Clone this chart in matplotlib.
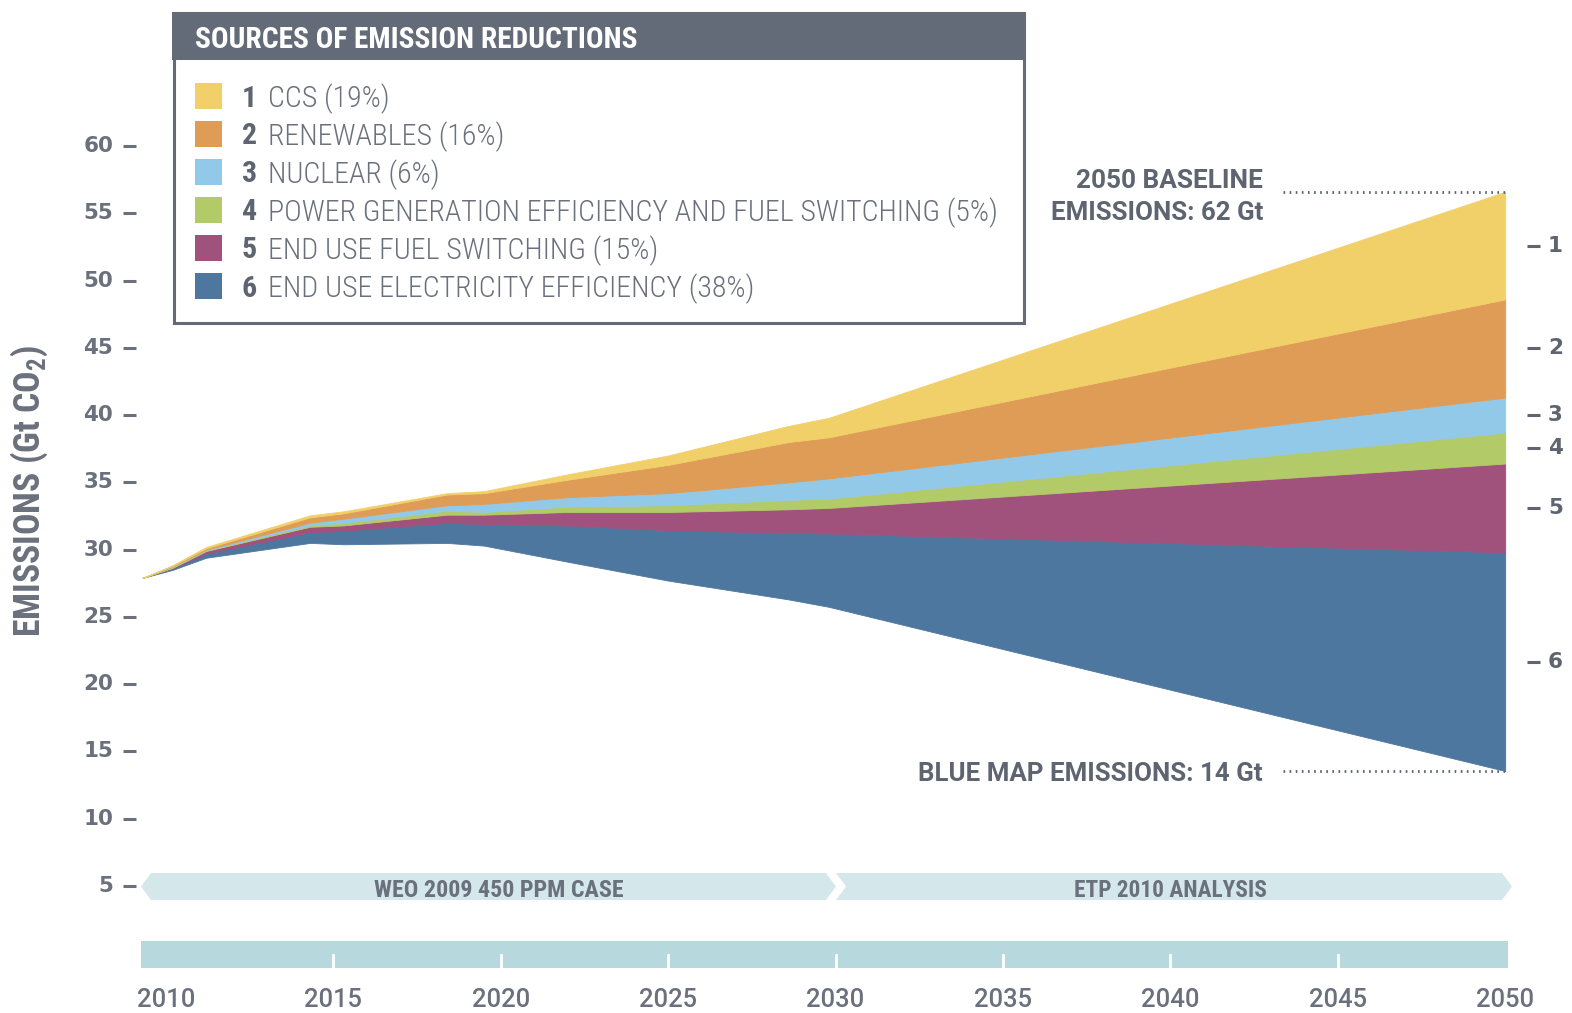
import matplotlib
matplotlib.use('Agg')
import matplotlib.pyplot as plt
from matplotlib.patches import Rectangle, Polygon
import numpy as np

# ---------------- data (Gt CO2) ----------------
years = [2009.3, 2010.2, 2011.2, 2014.3, 2015.3, 2018.4, 2019.5, 2022.0, 2025.0, 2028.6, 2029.8, 2050.0]
blue_map = [27.9, 28.5, 29.4, 30.5, 30.4, 30.5, 30.3, 29.1, 27.7, 26.3, 25.75, 13.55]
top_end_use_elec = [27.9, 28.6, 29.7, 31.3, 31.4, 32.0, 31.9, 31.8, 31.45, 31.25, 31.2, 29.8]
top_end_use_fuel = [27.9, 28.65, 29.9, 31.7, 31.8, 32.6, 32.6, 32.8, 32.8, 33.0, 33.1, 36.4]
top_power_gen = [27.9, 28.7, 29.95, 31.8, 32.0, 32.9, 32.8, 33.2, 33.3, 33.7, 33.8, 38.7]
top_nuclear = [27.9, 28.75, 30.0, 32.0, 32.3, 33.3, 33.4, 33.9, 34.2, 35.0, 35.3, 41.3]
top_renewables = [27.9, 28.8, 30.1, 32.4, 32.7, 34.1, 34.2, 35.2, 36.3, 38.0, 38.35, 48.6]
baseline = [27.9, 28.85, 30.2, 32.55, 32.85, 34.2, 34.35, 35.6, 37.0, 39.2, 39.8, 56.6]

legend_nums = ['1', '2', '3', '4', '5', '6']
legend_labels = ['CCS (19%)', 'RENEWABLES (16%)', 'NUCLEAR (6%)',
                 'POWER GENERATION EFFICIENCY AND FUEL SWITCHING (5%)',
                 'END USE FUEL SWITCHING (15%)', 'END USE ELECTRICITY EFFICIENCY (38%)']
colors = ['#F1D06A', '#DF9C56', '#93C9E8', '#B3CA68', '#A0517C', '#4D779F']
y_ticks = [5, 10, 15, 20, 25, 30, 35, 40, 45, 50, 55, 60]
x_ticks = [2010, 2015, 2020, 2025, 2030, 2035, 2040, 2045, 2050]
banner_labels = ['WEO 2009 450 PPM CASE', 'ETP 2010 ANALYSIS']
title_legend = 'SOURCES OF EMISSION REDUCTIONS'
ylabel = r'EMISSIONS (Gt CO$_2$)'

# ---------------- figure / scales ----------------
W, H = 1572, 1013
COND = ['Roboto Condensed', 'DejaVu Sans']
plt.rcParams['font.family'] = COND
plt.rcParams['mathtext.fontset'] = 'custom'
plt.rcParams['mathtext.rm'] = 'Roboto Condensed:bold'
plt.rcParams['mathtext.default'] = 'rm'
NUMF = ['DejaVu Sans']
WIDE = ['Roboto', 'DejaVu Sans']
TXT = '#5E6571'
TXT2 = '#6A707C'

fig = plt.figure(figsize=(W / 100, H / 100), dpi=100)
ax = fig.add_axes([0, 0, 1, 1])
ax.axis('off')

PXY = 33.48      # px per year
X2010 = 166.0    # px of 2010
PXG = 13.455     # px per Gt
Y0 = 953.3       # px of 0 Gt
ax.set_xlim(2010 - X2010 / PXY, 2010 + (W - X2010) / PXY)
ax.set_ylim((Y0 - H) / PXG, Y0 / PXG)


def yr(px):
    return 2010 + (px - X2010) / PXY


def gt(py):
    return (Y0 - py) / PXG


def fx(px):
    return px / W


def fy(py):
    return 1 - py / H


renderer = fig.canvas.get_renderer()


def fit(t, target, dim='w'):
    bb = t.get_window_extent(renderer)
    cur = bb.width if dim == 'w' else bb.height
    t.set_fontsize(t.get_fontsize() * target / cur)
    return t.get_fontsize()


DY = 2.5  # vertical correction for text centering

# ---------------- stacked wedges ----------------
bounds = [blue_map, top_end_use_elec, top_end_use_fuel, top_power_gen,
          top_nuclear, top_renewables, baseline]
wedge_cols = colors[::-1]
for i in range(6):
    ax.fill_between(years, bounds[i], bounds[i + 1], color=wedge_cols[i],
                    lw=0.6, edgecolor=wedge_cols[i], zorder=2)

# right-hand wedge numbers
for i in range(6):
    mid = (bounds[i][-1] + bounds[i + 1][-1]) / 2
    num = str(6 - i)
    ax.plot([yr(1527), yr(1540)], [mid, mid], color=TXT, lw=2.2, solid_capstyle='butt')
    ax.text(yr(1548), mid, num, ha='left', va='center', fontsize=15.5,
            family=NUMF, weight='bold', color=TXT)

# dotted reference lines and labels
dot = (0, (0.6, 1.6))
ax.plot([yr(1283), years[-1]], [baseline[-1], baseline[-1]], color=TXT, lw=2, ls=dot)
ax.plot([yr(1283), years[-1]], [blue_map[-1], blue_map[-1]], color=TXT, lw=2, ls=dot)
t1 = ax.text(yr(1263), gt(179 + DY), '2050 BASELINE', ha='right', va='center',
             fontsize=18, family=WIDE, weight='bold', color=TXT)
fit(t1, 188)
t2 = ax.text(yr(1263), gt(210 + DY), 'EMISSIONS: 62 Gt', ha='right', va='center',
             fontsize=18, family=WIDE, weight='bold', color=TXT)
fit(t2, 213)
t3 = ax.text(yr(1263), gt(771 + DY), 'BLUE MAP EMISSIONS: 14 Gt', ha='right', va='center',
             fontsize=18, family=WIDE, weight='bold', color=TXT)
fit(t3, 345)

# ---------------- y axis ----------------
for v in y_ticks:
    ax.text(yr(113), v, str(v), ha='right', va='center', fontsize=15.5,
            family=NUMF, weight='bold', color=TXT2)
    ax.plot([yr(123), yr(136)], [v, v], color=TXT2, lw=2.2, solid_capstyle='butt')
yl = fig.text(fx(29), fy(491), ylabel, rotation=90, ha='center', va='center',
              fontsize=20, weight='bold', color=TXT2)
fit(yl, 292, 'h')

# ---------------- banners ----------------
bcol = '#D4E8EC'
top, bot, mid = 873, 900, 886.5
p1 = [(141, mid), (151, top), (826, top), (836, mid), (826, bot), (151, bot)]
p2 = [(836, top), (1502, top), (1512, mid), (1502, bot), (836, bot), (846, mid)]
for p in (p1, p2):
    ax.add_patch(Polygon([(fx(a), fy(b)) for a, b in p], closed=True,
                         facecolor=bcol, edgecolor='none', transform=fig.transFigure, zorder=1))
tb1 = fig.text(fx(499), fy(888 + DY), banner_labels[0], ha='center', va='center',
               fontsize=13, weight='bold', color=TXT2)
fit(tb1, 248)
tb2 = fig.text(fx(1170), fy(888 + DY), banner_labels[1], ha='center', va='center',
               fontsize=13, weight='bold', color=TXT2)
fit(tb2, 191)

# ---------------- timeline bar & x labels ----------------
ax.add_patch(Rectangle((fx(141), fy(968)), fx(1508) - fx(141), fy(941) - fy(968),
                       facecolor='#B7D8DC', edgecolor='none', transform=fig.transFigure, zorder=1))
for x in x_ticks[1:-1]:
    ax.plot([x, x], [gt(955), gt(968)], color='white', lw=2, zorder=3)
for x in x_ticks:
    t = ax.text(x, gt(997 + DY), str(x), ha='center', va='center', fontsize=18,
                family=WIDE, weight='medium', color=TXT2)
    fit(t, 58)

# ---------------- legend box ----------------
gcol = '#646B78'
fig.add_artist(Rectangle((fx(172), fy(60)), fx(1025) - fx(172), fy(12) - fy(60),
                         facecolor=gcol, edgecolor='none', transform=fig.transFigure))
fig.add_artist(Rectangle((fx(173.5), fy(323.5)), fx(1023.5) - fx(173.5), fy(13.5) - fy(323.5),
                         facecolor='none', edgecolor=gcol, lw=2.2, transform=fig.transFigure))
th = fig.text(fx(195), fy(37 + DY), title_legend, ha='left', va='center', fontsize=17,
              weight='bold', color='white')
fit(th, 443)

rows = [96, 134, 172, 210, 248, 286]
lt = fig.text(fx(268), fy(rows[3]), legend_labels[3], ha='left', va='center',
              fontsize=18, weight='light', color=TXT2)
lfs = fit(lt, 729)
lt.remove()
for i, (n, lab, c, py) in enumerate(zip(legend_nums, legend_labels, colors, rows)):
    fig.add_artist(Rectangle((fx(195), fy(py + 13)), fx(222) - fx(195), fy(py - 13) - fy(py + 13),
                             facecolor=c, edgecolor='none', transform=fig.transFigure))
    fig.text(fx(242), fy(py + DY), n, ha='left', va='center', fontsize=lfs,
             weight='bold', color=TXT)
    fig.text(fx(268), fy(py + DY), lab, ha='left', va='center', fontsize=lfs,
             weight='light', color=TXT2)

fig.savefig('out.png', dpi=100, facecolor='white')
